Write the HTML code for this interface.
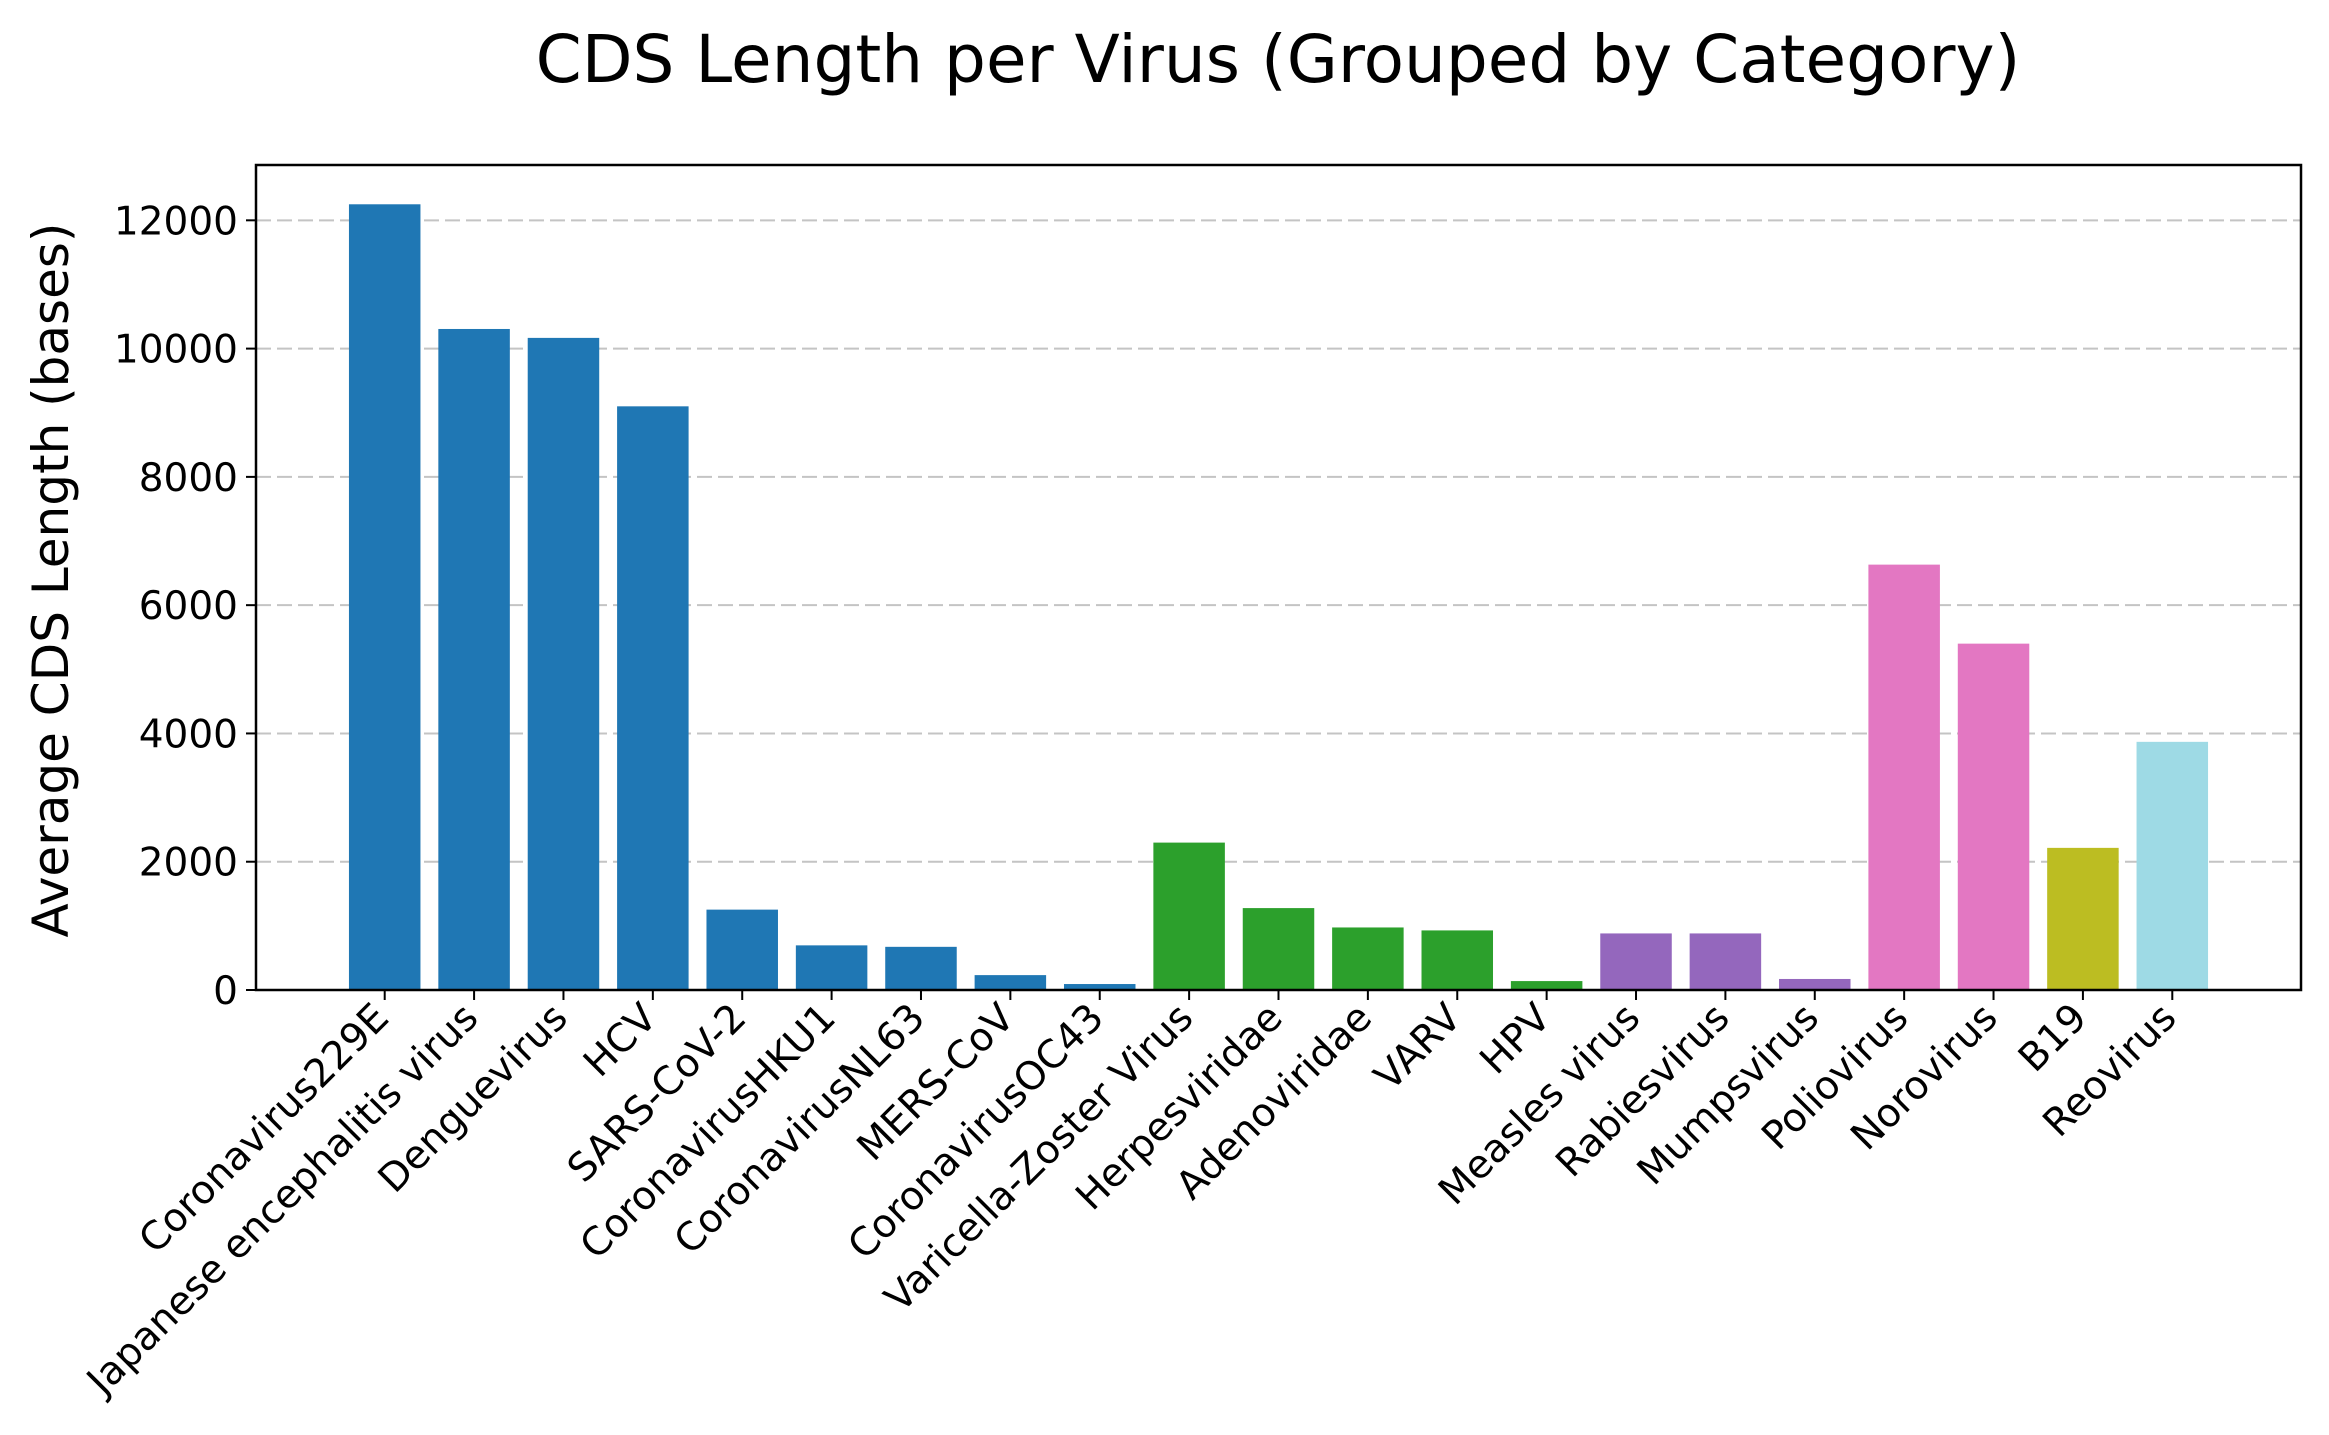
<!DOCTYPE html>
<html><head><meta charset="utf-8"><style>
body{margin:0;background:#fff}
svg{display:block;font-family:"DejaVu Sans","Liberation Sans",sans-serif}
</style></head><body>
<svg id="chart" width="2329" height="1435" viewBox="0 0 2329 1435">
<rect width="2329" height="1435" fill="#fff"/>
<text x="1278" y="82" font-size="66" text-anchor="middle">CDS Length per Virus (Grouped by Category)</text>
<text transform="translate(68,580) rotate(-90)" font-size="50" text-anchor="middle">Average CDS Length (bases)</text>
<g id="grid"></g><g id="bars"></g><g id="axes"></g>
</svg>
<script>
const categories = ["Coronavirus229E","Japanese encephalitis virus","Denguevirus","HCV","SARS-CoV-2","CoronavirusHKU1","CoronavirusNL63","MERS-CoV","CoronavirusOC43","Varicella-Zoster Virus","Herpesviridae","Adenoviridae","VARV","HPV","Measles virus","Rabiesvirus","Mumpsvirus","Poliovirus","Norovirus","B19","Reovirus"];
const values = [12250,10306,10167,9100,1253,696,673,232,93,2298,1277,975,929,139,882,882,172,6632,5400,2216,3869];
const groups = [0,0,0,0,0,0,0,0,0,1,1,1,1,1,2,2,2,3,3,4,5];
const groupColors = ["#1f77b4","#2ca02c","#9467bd","#e377c2","#bcbd22","#9edae5"];
const yTicks = [0,2000,4000,6000,8000,10000,12000];

const L=256,R=2301,T=165,B=990;
const n=categories.length;
const xmin=-0.4-0.05*(n-1+0.8), xmax=n-1+0.4+0.05*(n-1+0.8);
const ymax=Math.max(...values)*1.05;
const sx=v=>L+(v-xmin)/(xmax-xmin)*(R-L);
const sy=v=>B-v/ymax*(B-T);
const NS="http://www.w3.org/2000/svg";
function mk(tag,attrs,parent){const e=document.createElementNS(NS,tag);for(const k in attrs)e.setAttribute(k,attrs[k]);parent.appendChild(e);return e;}
const grid=document.getElementById('grid'),bars=document.getElementById('bars'),axes=document.getElementById('axes');
yTicks.forEach(t=>{
  if(t>0){const g=mk('line',{x1:L,x2:R,y1:sy(t),y2:sy(t),stroke:'#c4c4c4','stroke-width':2,'stroke-dasharray':'15,6'},grid);
  
  }
  const tk=mk('line',{x1:L-10,x2:L,y1:sy(t),y2:sy(t),stroke:'#000','stroke-width':2},axes);
  
  
  const lb=mk('text',{x:L-18,y:sy(t)+14,'font-size':39,'text-anchor':'end'},axes);
  lb.textContent=t;
  
  
});
categories.forEach((c,i)=>{
  const x0=sx(i-0.4),x1=sx(i+0.4),y=sy(values[i]);
  const r=mk('rect',{x:x0,y:y,width:x1-x0,height:B-y,fill:groupColors[groups[i]]},bars);
  
  
  const cx=sx(i);
  const tk=mk('line',{x1:cx,x2:cx,y1:B,y2:B+10,stroke:'#000','stroke-width':2},axes);
  
  
  const lb=mk('text',{transform:`translate(${cx+6},${B+30}) rotate(-45)`,'font-size':39,'text-anchor':'end'},axes);
  lb.textContent=c;
  
  
});
const fr=mk('rect',{x:L,y:T,width:R-L,height:B-T,fill:'none',stroke:'#000','stroke-width':2.5},axes);


</script>
</body></html>
